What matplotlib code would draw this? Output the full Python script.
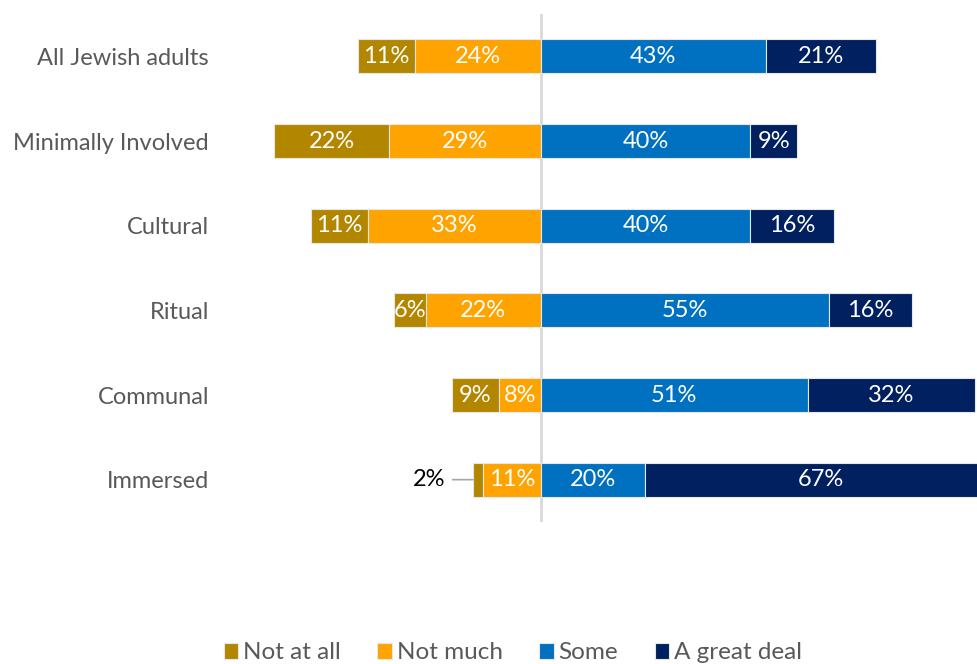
import matplotlib.pyplot as plt
import numpy as np

plt.rcParams['font.family'] = ['Lato', 'DejaVu Sans']

groups = ['All Jewish adults', 'Minimally Involved', 'Cultural', 'Ritual', 'Communal', 'Immersed']
not_at_all = [11, 22, 11, 6, 9, 2]
not_much = [24, 29, 33, 22, 8, 11]
some = [43, 40, 40, 55, 51, 20]
great_deal = [21, 9, 16, 16, 32, 67]

series = ['Not at all', 'Not much', 'Some', 'A great deal']
colors = ['#B38600', '#FFA300', '#0070C0', '#002060']

fig = plt.figure(figsize=(9.77, 6.64), dpi=100)
ax = fig.add_axes([227 / 977, 142 / 664, 750 / 977, 508 / 664])

y = np.arange(len(groups))
h = 0.4
na = np.array(not_at_all)
nm = np.array(not_much)
so = np.array(some)
gd = np.array(great_deal)

# negative side: "Not much" sits next to the center, "Not at all" further out
segs = [
    (-(na + nm), na, colors[0], series[0]),
    (-nm, nm, colors[1], series[1]),
    (np.zeros_like(so), so, colors[2], series[2]),
    (so, gd, colors[3], series[3]),
]
for left, width, c, name in segs:
    ax.barh(y, width, left=left, height=h, color=c, edgecolor='#E6E6E6',
            linewidth=0.8, label=name)
    for i, (l, w) in enumerate(zip(left, width)):
        if w < 3:
            continue
        ax.text(l + w / 2, y[i], f'{w}%', ha='center', va='center', color='white',
                fontsize=17, clip_on=True)

# small value gets an outside label with a leader line
i = groups.index('Immersed')
x0 = -(na[i] + nm[i])
ax.annotate(f'{na[i]}%', xy=(x0, y[i]), xytext=(x0 - 5.2, y[i]),
            ha='right', va='center', fontsize=17, color='black',
            arrowprops=dict(arrowstyle='-', color='#A6A6A6', lw=1.2,
                            shrinkA=3, shrinkB=0))

ax.axvline(0, color='#D9D9D9', lw=2, zorder=0)

ax.set_xlim(-60, 83.37)
ax.set_ylim(5.5, -0.5)
ax.set_yticks(y)
ax.set_yticklabels(groups, fontsize=17, color='#595959')
ax.tick_params(axis='y', length=0, pad=13)
ax.set_xticks([])
for s in ax.spines.values():
    s.set_visible(False)

fig.legend(loc='lower center', bbox_to_anchor=(0.525, -0.032), ncol=4, frameon=False,
           fontsize=17.5, labelcolor='#595959', handlelength=0.6, handleheight=0.6,
           handletextpad=0.2, columnspacing=1.5)

fig.savefig('out.png', dpi=100)
